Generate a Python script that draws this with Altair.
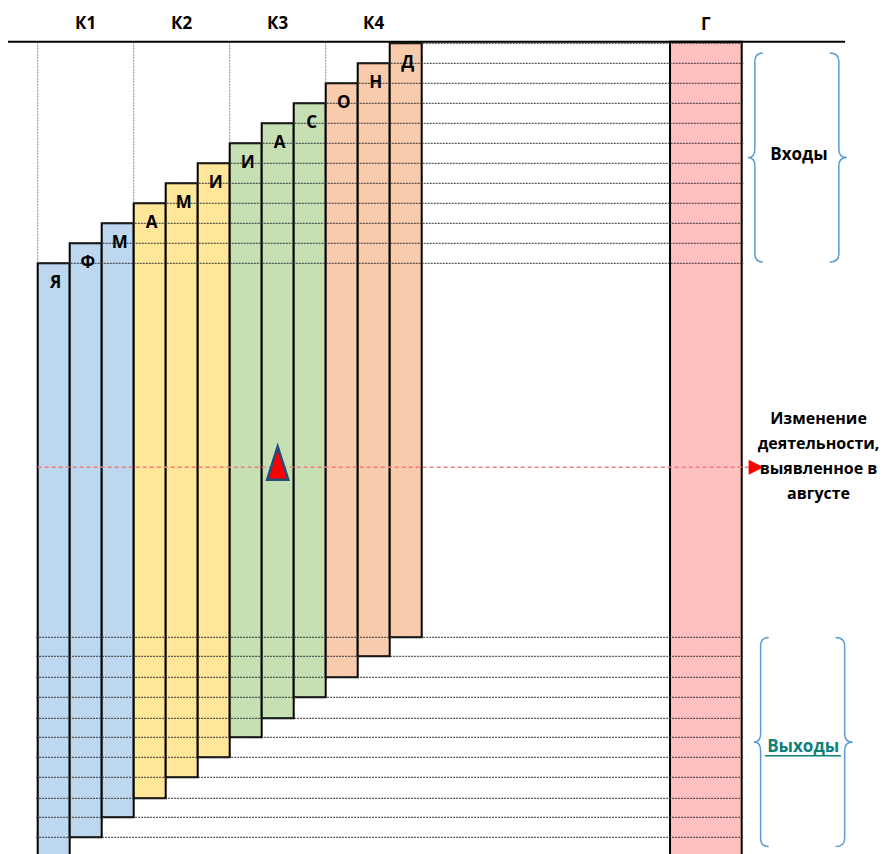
import altair as alt
import pandas as pd

# ---------------- data ----------------
months = ["Я", "Ф", "М", "А", "М", "И", "И", "А", "С", "О", "Н", "Д"]
month_quarter = ["К1", "К1", "К1", "К2", "К2", "К2", "К3", "К3", "К3", "К4", "К4", "К4"]
month_slot = [0, 1, 2, 3, 4, 5, 6, 7, 8, 9, 10, 11]
bar_top = [11, 10, 9, 8, 7, 6, 5, 4, 3, 2, 1, 0]
bar_bottom = [40.7, 39.7, 38.7, 37.75, 36.7, 35.7, 34.7, 33.75, 32.7, 31.7, 30.65, 29.7]

quarters = ["К1", "К2", "К3", "К4"]
quarter_colors = ["#BDD7EE", "#FFE699", "#C6E0B4", "#F8CBAD"]
quarter_center = [1.5, 4.5, 7.5, 10.5]
quarter_start_slot = [0, 3, 6, 9]
quarter_first_top = [11, 8, 5, 2]

year_label = ["Г"]
year_x = [19.76]
year_x2 = [22.0]
year_top = [-0.08]
year_bottom = [41.5]
year_color = "#FFC0C0"

frame_y = [-0.08]
frame_x = [-0.93]
frame_x2 = [25.23]
guide_end = [22.05]
bottom_guide_start = [-0.05]

change_level = [21.2]
change_x = [0.0]
change_x2 = [22.3]
change_marker_x = [7.5]          # август
change_arrow_x = [22.45]
change_text = ["Изменение\nдеятельности,\nвыявленное в\nавгусте"]
change_text_x = [24.40]
change_text_y = [18.79]

brace_labels = ["Входы", "Выходы"]
brace_x = [23.74, 23.92]
brace_y = [5.71, 34.94]
brace_label_x = [23.79, 23.92]
brace_label_y = [5.58, 35.2]
underline_x = [22.73]
underline_x2 = [25.1]
underline_y = [35.62]

# ---------------- frames ----------------
bars = pd.DataFrame({
    "month": months, "quarter": month_quarter, "slot": month_slot,
    "top": bar_top, "bottom": bar_bottom,
})
bars["slot_end"] = bars["slot"] + 1
bars["label_x"] = bars["slot"] + 0.5
bars["label_y"] = bars["top"] + 1.0
bars["guide_end"] = guide_end[0]
bars["guide_start"] = bottom_guide_start[0]

qdf = pd.DataFrame({"q": quarters, "cx": quarter_center,
                    "sx": quarter_start_slot, "ftop": quarter_first_top})
qdf["ly"] = -0.95
qdf["fy"] = frame_y[0]

ydf = pd.DataFrame({"label": year_label, "x": year_x, "x2": year_x2,
                    "top": year_top, "bottom": year_bottom})
ydf["cx"] = (ydf["x"] + ydf["x2"]) / 2
ydf["ly"] = -0.9

frame = pd.DataFrame({"x": frame_x, "x2": frame_x2, "y": frame_y})
chg = pd.DataFrame({"x": change_x, "x2": change_x2, "y": change_level,
                    "mx": change_marker_x, "ax": change_arrow_x})
chg_txt = pd.DataFrame({"t": change_text, "x": change_text_x, "y": change_text_y})
braces = pd.DataFrame({"label": brace_labels, "x": brace_x, "y": brace_y,
                       "lx": brace_label_x, "ly": brace_label_y})
ul = pd.DataFrame({"x": underline_x, "x2": underline_x2, "y": underline_y})

# ---------------- scales ----------------
W, H = 874, 846
xs = alt.Scale(domain=[-0.928, 26.384], nice=False, zero=False)
ys = alt.Scale(domain=[-1.765, 40.535], nice=False, zero=False, reverse=True)
FONT = "Open Sans"


def X(f):
    return alt.X(f, type="quantitative", scale=xs, axis=None)


def Y(f):
    return alt.Y(f, type="quantitative", scale=ys, axis=None)


year_bar = alt.Chart(ydf).mark_rect(fill=year_color, stroke="black", strokeWidth=2).encode(
    x=X("x"), x2="x2", y=Y("top"), y2="bottom")

month_bars = alt.Chart(bars).mark_rect(stroke="black", strokeWidth=2).encode(
    x=X("slot"), x2="slot_end", y=Y("top"), y2="bottom",
    fill=alt.Fill("quarter:N", scale=alt.Scale(domain=quarters, range=quarter_colors), legend=None))

top_guides = alt.Chart(bars).mark_rule(color="#333333", strokeWidth=1, strokeDash=[2, 1]).encode(
    x=X("slot"), x2="guide_end", y=Y("top"))

bottom_guides = alt.Chart(bars).mark_rule(color="#333333", strokeWidth=1, strokeDash=[2, 1]).encode(
    x=X("guide_start"), x2="guide_end", y=Y("bottom"))

q_guides = alt.Chart(qdf).mark_rule(color="#888888", strokeWidth=1, strokeDash=[2, 1]).encode(
    x=X("sx"), y=Y("fy"), y2="ftop")

frame_line = alt.Chart(frame).mark_rule(color="black", strokeWidth=2).encode(
    x=X("x"), x2="x2", y=Y("y"))

change_line = alt.Chart(chg).mark_rule(color="#F47C7C", strokeWidth=1.5, strokeDash=[4, 3]).encode(
    x=X("x"), x2="x2", y=Y("y"))

change_marker = alt.Chart(chg).mark_point(
    shape="M 0 -1.25 L 0.64 0.75 L -0.64 0.75 Z", size=1089, filled=True,
    fill="#FF0000", stroke="#1F4E79", strokeWidth=2.5, opacity=1).encode(
    x=X("mx"), y=Y("y"))

change_arrow = alt.Chart(chg).mark_point(
    shape="M -1 -1 L 1 0 L -1 1 Z", size=225, filled=True,
    fill="#FF0000", strokeWidth=0, opacity=1).encode(
    x=X("ax"), y=Y("y"))

month_labels = alt.Chart(bars).mark_text(font=FONT, fontWeight="bold", fontSize=17,
                                         color="black", dx=2).encode(
    x=X("label_x"), y=Y("label_y"), text="month:N")

q_labels = alt.Chart(qdf).mark_text(font=FONT, fontWeight="bold", fontSize=17, color="black").encode(
    x=X("cx"), y=Y("ly"), text="q:N")

y_label = alt.Chart(ydf).mark_text(font=FONT, fontWeight="bold", fontSize=17, color="black").encode(
    x=X("cx"), y=Y("ly"), text="label:N")

brace_path = ("M -0.33 -1 Q -0.407 -1 -0.407 -0.92 L -0.407 -0.08 Q -0.407 0 -0.474 0 "
              "Q -0.407 0 -0.407 0.08 L -0.407 0.92 Q -0.407 1 -0.33 1 "
              "M 0.31 -1 Q 0.397 -1 0.397 -0.92 L 0.397 -0.08 Q 0.397 0 0.474 0 "
              "Q 0.397 0 0.397 0.08 L 0.397 0.92 Q 0.397 1 0.31 1")
brace_marks = alt.Chart(braces).mark_point(
    shape=brace_path, size=43681, filled=False, stroke="#5B9BD5", strokeWidth=1.5, opacity=1).encode(
    x=X("x"), y=Y("y"))

brace_text = alt.Chart(braces).mark_text(font=FONT, fontWeight="bold", fontSize=17).encode(
    x=X("lx"), y=Y("ly"), text="label:N",
    color=alt.Color("label:N", scale=alt.Scale(domain=brace_labels, range=["#000000", "#0F7F7A"]),
                    legend=None))

underline = alt.Chart(ul).mark_rule(color="#0F7F7A", strokeWidth=1.5).encode(
    x=X("x"), x2="x2", y=Y("y"))

change_label = alt.Chart(chg_txt).mark_text(font=FONT, fontWeight="bold", fontSize=16,
                                            color="black", lineBreak="\n", lineHeight=25,
                                            baseline="middle").encode(
    x=X("x"), y=Y("y"), text="t:N")

chart = alt.layer(
    year_bar, month_bars, top_guides, bottom_guides, q_guides, frame_line,
    change_line, change_marker, change_arrow, month_labels, q_labels, y_label,
    brace_marks, brace_text, underline, change_label,
).properties(
    width=W, height=H, padding=0, autosize=alt.AutoSizeParams(type="none"),
).configure_view(stroke=None)

chart.save("out.html", embed_options={"renderer": "svg", "actions": False})
